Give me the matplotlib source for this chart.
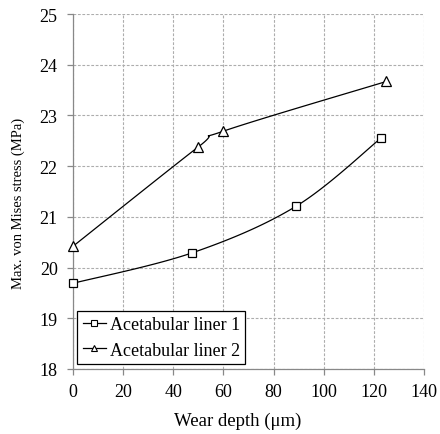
import numpy as np
import matplotlib.pyplot as plt
from matplotlib.lines import Line2D

# Data
wear_1 = [0, 47.5, 89, 123]
stress_1 = [19.69, 20.29, 21.21, 22.56]
wear_2 = [0, 50, 60, 125]
stress_2 = [20.42, 22.38, 22.69, 23.67]

x_ticks = [0, 20, 40, 60, 80, 100, 120, 140]
y_ticks = [18, 19, 20, 21, 22, 23, 24, 25]

plt.rcParams['font.family'] = ['Liberation Serif', 'DejaVu Serif']


def smooth(xs, ys, sx=140.0, sy=7.0, n=40):
    """Excel-like smoothed line (Catmull-Rom Bezier) through the points."""
    p = np.column_stack([np.asarray(xs) / sx, np.asarray(ys) / sy])
    out = []
    for i in range(len(p) - 1):
        p0 = p[i - 1] if i > 0 else p[i]
        p1, p2 = p[i], p[i + 1]
        p3 = p[i + 2] if i + 2 < len(p) else p[i + 1]
        c1 = p1 + (p2 - p0) / 6.0
        c2 = p2 - (p3 - p1) / 6.0
        t = np.linspace(0, 1, n)[:, None]
        seg = ((1 - t) ** 3) * p1 + 3 * ((1 - t) ** 2) * t * c1 \
            + 3 * (1 - t) * t ** 2 * c2 + t ** 3 * p2
        out.append(seg if i == 0 else seg[1:])
    out = np.vstack(out)
    return out[:, 0] * sx, out[:, 1] * sy


fig = plt.figure(figsize=(4.4, 4.35), dpi=100)
ax = fig.add_axes([73 / 440, 1 - 370 / 435, (424 - 73) / 440, (370 - 15) / 435])

for xs, ys, mk in [(wear_1, stress_1, 's'), (wear_2, stress_2, '^')]:
    cx, cy = smooth(xs, ys)
    ax.plot(cx, cy, color='black', lw=0.9, zorder=3)
    ax.plot(xs, ys, linestyle='none', marker=mk, markersize=6 if mk == 's' else 7,
            markerfacecolor='white', markeredgecolor='black', markeredgewidth=0.9,
            zorder=4, clip_on=False)

ax.set_xlim(0, 140)
ax.set_ylim(18, 25)
ax.set_xticks(x_ticks)
ax.set_yticks(y_ticks)
ax.grid(True, color='#adadad', linestyle=(0, (2.5, 1.5)), linewidth=0.8)
ax.set_axisbelow(True)

for side in ['top', 'right']:
    ax.spines[side].set_visible(False)
for side in ['left', 'bottom']:
    ax.spines[side].set_color('#888888')
    ax.spines[side].set_linewidth(0.9)
ax.tick_params(direction='out', length=4, width=0.9, color='#888888',
               labelsize=13)
ax.tick_params(axis='y', pad=7)
ax.tick_params(axis='x', pad=6)

ax.set_xlabel('Wear depth (\u03bcm)', fontsize=13.5, labelpad=6)
ax.xaxis.set_label_coords(0.47, -0.12)
ax.set_ylabel('Max. von Mises stress (MPa)', fontsize=10.5)
ax.yaxis.set_label_coords(-0.137, 0.47)

handles = [
    Line2D([], [], color='black', lw=0.9, marker='s', markersize=4.5,
           markerfacecolor='white', markeredgecolor='black', markeredgewidth=0.8),
    Line2D([], [], color='black', lw=0.9, marker='^', markersize=5,
           markerfacecolor='white', markeredgecolor='black', markeredgewidth=0.8),
]
leg = ax.legend(handles, ['Acetabular liner 1', 'Acetabular liner 2'],
                loc='lower left', bbox_to_anchor=(0.012, 0.014), fontsize=13,
                fancybox=False, framealpha=1, edgecolor='black',
                handlelength=1.3, handletextpad=0.2, borderpad=0.3,
                labelspacing=0.47, borderaxespad=0)
leg.get_frame().set_linewidth(0.9)

fig.savefig('out.png', dpi=100)
